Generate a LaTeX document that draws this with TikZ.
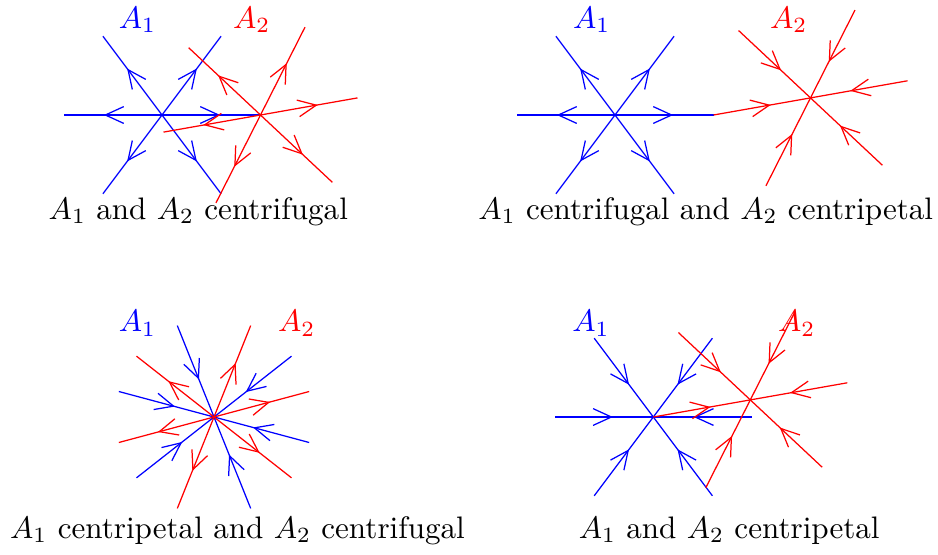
\documentclass[tikz,border=0pt]{standalone}
\usepackage{xcolor}
\usetikzlibrary{arrows.meta,decorations.markings,calc}

% one spoke star: centre, turn, colour, direction style
\newcommand{\spokes}[4]{%
  \foreach \a in {0,53.13,126.87,180,233.13,306.87}
    \draw[#3,#4] (#1) -- ++(\a+#2:98.5);
}

\begin{document}
\begin{tikzpicture}[
  x=0.3217pt, y=0.3217pt,
  fugal/.style={postaction={decorate}, decoration={markings,
    mark=at position 0.59 with {\arrow{Straight Barb[length=5.9pt,width=5.4pt]}}}},
  petal/.style={postaction={decorate}, decoration={markings,
    mark=at position 0.41 with {\arrowreversed{Straight Barb[length=5.9pt,width=5.4pt]}}}},
  lab/.style={anchor=base, inner sep=0pt},
  capt/.style={anchor=base, inner sep=0pt}
]
\useasboundingbox (0,0) rectangle (938,554);

% top left
\coordinate (B1) at (162,439);
\coordinate (R1) at ($(B1)+(98.5,0)$);
\spokes{B1}{0}{blue}{fugal}
\spokes{R1}{10}{red}{fugal}
\node[lab, blue] (a1tl) at (137.5,525.7) {$A_1$};
\node[lab, red] (a2tl) at (251.7,525.7) {$A_2$};
\node[capt] (ctl) at (198.3,334.7) {$A_1$ and $A_2$ centrifugal};

% top right
\coordinate (B2) at (615,439);
\coordinate (R2) at ($(B2)+(98.5,0)+(10:98.5)$);
\spokes{B2}{0}{blue}{fugal}
\spokes{R2}{10}{red}{petal}
\node[lab, blue] (a1tr) at (591.7,525.7) {$A_1$};
\node[lab, red] (a2tr) at (788.8,525.7) {$A_2$};
\node[capt] (ctr) at (705.8,334.7) {$A_1$ centrifugal and $A_2$ centripetal};

% bottom left
\coordinate (C3) at (214,137);
\spokes{C3}{-15}{blue}{petal}
\spokes{C3}{15}{red}{fugal}
\node[lab, blue] (a1bl) at (137.5,222.3) {$A_1$};
\node[lab, red] (a2bl) at (296.7,222.3) {$A_2$};
\node[capt] (cbl) at (237.5,15.7) {$A_1$ centripetal and $A_2$ centrifugal};

% bottom right
\coordinate (B4) at (653.3,137);
\coordinate (R4) at ($(B4)+(10:98.5)$);
\spokes{B4}{0}{blue}{petal}
\spokes{R4}{10}{red}{petal}
\node[lab, blue] (a1br) at (591,222.3) {$A_1$};
\node[lab, red] (a2br) at (796.7,222.3) {$A_2$};
\node[capt] (cbr) at (729.2,15.7) {$A_1$ and $A_2$ centripetal};
\end{tikzpicture}
\end{document}
